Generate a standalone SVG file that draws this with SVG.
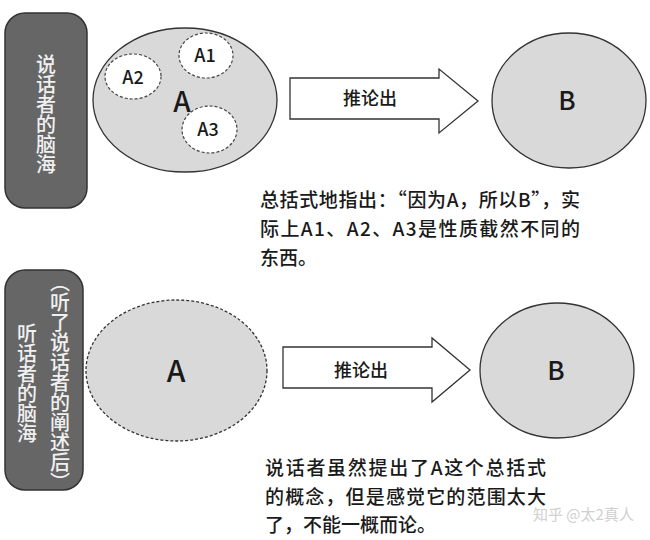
<svg xmlns="http://www.w3.org/2000/svg" width="650" height="540" viewBox="0 0 650 540">
<style>
.box{fill:#666;stroke:#333;stroke-width:1.5}
.vt{font-family:"Noto Sans CJK SC","Noto Sans",sans-serif;font-size:20px;font-weight:500;fill:#f0f0f0;writing-mode:vertical-rl;text-anchor:middle}
.ell{fill:#d9d9d9;stroke:#333;stroke-width:1.3}
.dash{stroke-dasharray:3 2}
.sub{fill:#fff;stroke:#444;stroke-width:1.2;stroke-dasharray:3 2}
.arrow{fill:#fff;stroke:#333;stroke-width:1.3}
.t{font-family:"Noto Sans CJK SC","Noto Sans",sans-serif;font-weight:500;fill:#1a1a1a}
.lbl{font-size:18px;text-anchor:middle}
.big{font-size:30px;text-anchor:middle}
.bb{font-size:26px;text-anchor:middle}
.note{font-size:19px}
.wm{font-family:"Noto Sans CJK SC","Noto Sans",sans-serif;font-size:15px;fill:#d0d0d0}
</style>
<rect width="650" height="540" fill="#fff"/>
<g id="speaker">
<rect class="box" x="5" y="13" width="82" height="195" rx="20"/>
<text class="vt" x="46" y="114">说话者的脑海</text>
</g>
<g id="listener">
<rect class="box" x="5" y="270" width="78" height="220" rx="20"/>
<text class="vt" x="60" y="382">（听了说话者的阐述后）</text>
<text class="vt" x="27" y="383">听话者的脑海</text>
</g>
<g id="topA">
<ellipse class="ell" cx="185" cy="100" rx="92" ry="72"/>
<text class="t big" x="182" y="112" style="font-size:28px">A</text>
</g>
<g id="A1">
<ellipse class="sub" cx="206" cy="55.5" rx="27" ry="22.5"/>
<text class="t lbl" x="205" y="62">A1</text>
</g>
<g id="A2">
<ellipse class="sub" cx="133" cy="76.5" rx="28" ry="22.5"/>
<text class="t lbl" x="133" y="84">A2</text>
</g>
<g id="A3">
<ellipse class="sub" cx="209.5" cy="129.5" rx="27.5" ry="23.5"/>
<text class="t lbl" x="208" y="136">A3</text>
</g>
<g id="topB">
<ellipse class="ell" cx="569" cy="100.5" rx="77" ry="67.5"/>
<text class="t bb" x="567" y="110">B</text>
</g>
<g id="bottomA">
<ellipse class="ell dash" cx="176.5" cy="370.5" rx="90.5" ry="70.5"/>
<text class="t big" x="176" y="382">A</text>
</g>
<g id="bottomB">
<ellipse class="ell" cx="557" cy="370.5" rx="77" ry="67.5"/>
<text class="t bb" x="556" y="380">B</text>
</g>
<g id="connectors">
<polygon class="arrow" points="290,78 439,78 439,69 478,101 439,133 439,119 290,119"/>
<text class="t lbl" x="370" y="105">推论出</text>
<polygon class="arrow" points="283,347 432,347 432,338 470,370 432,402 432,388 283,388"/>
<text class="t lbl" x="361" y="377">推论出</text>
</g>
<g id="note1">
<text class="t note" x="260" y="207" textLength="320" lengthAdjust="spacing">总括式地指出：“因为A，所以B”，实</text>
<text class="t note" x="260" y="236" textLength="320" lengthAdjust="spacing">际上A1、A2、A3是性质截然不同的</text>
<text class="t note" x="260" y="265">东西。</text>
</g>
<g id="note2">
<text class="t note" x="265" y="475" textLength="281" lengthAdjust="spacing">说话者虽然提出了A这个总括式</text>
<text class="t note" x="265" y="504" textLength="281" lengthAdjust="spacing">的概念，但是感觉它的范围太大</text>
<text class="t note" x="265" y="532">了，不能一概而论。</text>
</g>
<text class="wm" x="533" y="520">知乎 @太2真人</text>
</svg>
